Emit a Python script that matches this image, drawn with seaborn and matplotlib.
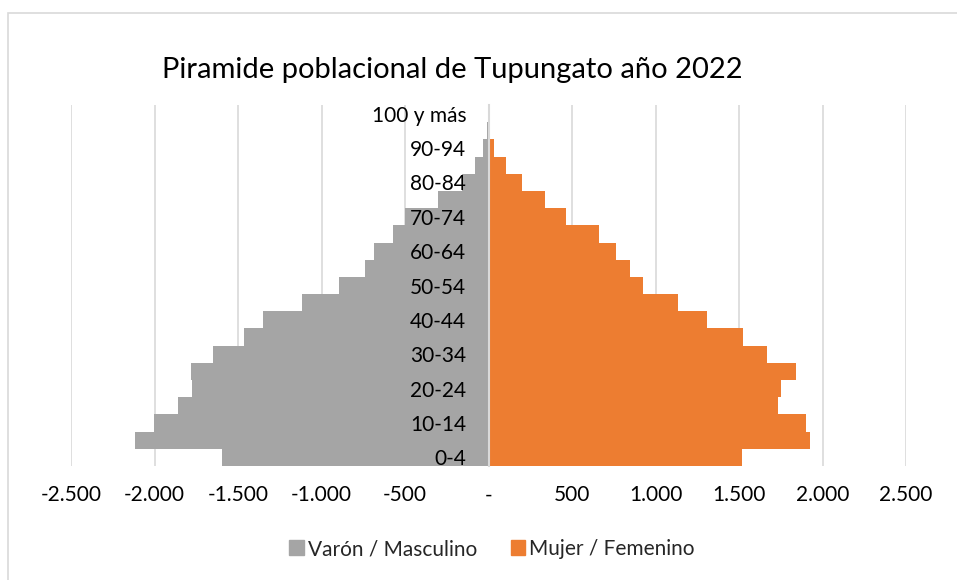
import matplotlib
matplotlib.use("Agg")
import matplotlib.pyplot as plt
import matplotlib.patches as mpatches
from matplotlib.ticker import FuncFormatter, MultipleLocator
import seaborn as sns
import pandas as pd

# ---- data ----
age_groups = ["0-4", "5-9", "10-14", "15-19", "20-24", "25-29", "30-34", "35-39",
              "40-44", "45-49", "50-54", "55-59", "60-64", "65-69", "70-74",
              "75-79", "80-84", "85-89", "90-94", "95-99", "100 y más"]
male = [1593, 2115, 2003, 1857, 1774, 1784, 1651, 1466, 1350, 1115, 894,
        740, 686, 574, 500, 300, 160, 81, 31, 8, 2]
female = [1515, 1925, 1903, 1731, 1749, 1843, 1665, 1525, 1311, 1137, 923,
          847, 765, 659, 465, 341, 199, 103, 35, 9, 3]
series_names = ["Varón / Masculino", "Mujer / Femenino"]
colors = ["#A5A5A5", "#ED7D31"]
title = "Piramide poblacional de Tupungato año 2022"

df = pd.concat([
    pd.DataFrame({"age": age_groups, "value": [-v for v in male], "sex": series_names[0]}),
    pd.DataFrame({"age": age_groups, "value": female, "sex": series_names[1]}),
])

sns.set_theme(style="white")
plt.rcParams["font.family"] = ["Lato", "DejaVu Sans"]

W, H = 957, 580
fig = plt.figure(figsize=(W / 100, H / 100), dpi=100)
ax = fig.add_axes([71 / W, 1 - 466 / H, 835 / W, 361 / H])

order = age_groups[::-1]
sns.barplot(data=df, x="value", y="age", hue="sex", order=order,
            hue_order=series_names, palette=colors, saturation=1, dodge=False,
            width=1.0, orient="h", linewidth=0, errorbar=None, legend=False,
            ax=ax, zorder=2)

ax.set_xlim(-2500, 2500)
ax.xaxis.set_major_locator(MultipleLocator(500))


def fmt(v, pos):
    if abs(v) < 1e-9:
        return "-"
    return f"{int(round(v)):,}".replace(",", ".")


ax.xaxis.set_major_formatter(FuncFormatter(fmt))
ax.set_axisbelow(True)
ax.grid(axis="x", color="#D9D9D9", linewidth=1.2)
ax.grid(axis="y", visible=False)
ax.yaxis.set_zorder(10)

# y labels every other category
ticks = list(range(0, len(order), 2))
ax.set_yticks(ticks)
ax.set_yticklabels([order[i] for i in ticks])

for s in ["top", "right", "bottom"]:
    ax.spines[s].set_visible(False)
ax.spines["left"].set_position(("data", 0))
ax.spines["left"].set_color("#D9D9D9")
ax.spines["left"].set_linewidth(1.5)
ax.spines["left"].set_zorder(5)

ax.tick_params(axis="y", length=0, pad=16, labelsize=15, labelcolor="#000000")
ax.tick_params(axis="x", length=0, pad=14, labelsize=15, labelcolor="#000000")
ax.set_xlabel("")
ax.set_ylabel("")

fig.text(452 / W, 1 - 70 / H, title, ha="center", va="center", fontsize=21,
         color="#000000")

handles = [mpatches.Patch(color=c) for c in colors]
fig.legend(handles, series_names, loc="center", bbox_to_anchor=(492 / W, 1 - 549 / H),
           ncol=2, frameon=False, fontsize=15, handlelength=0.7, handleheight=0.7,
           handletextpad=0.2, columnspacing=1.6)

# chart border
fig.add_artist(mpatches.Rectangle((8 / W, -0.1), 1.2, 1.1 - 13 / H,
                                  transform=fig.transFigure, fill=False,
                                  edgecolor="#D9D9D9", linewidth=1.2))

fig.savefig("out.png", dpi=100)
